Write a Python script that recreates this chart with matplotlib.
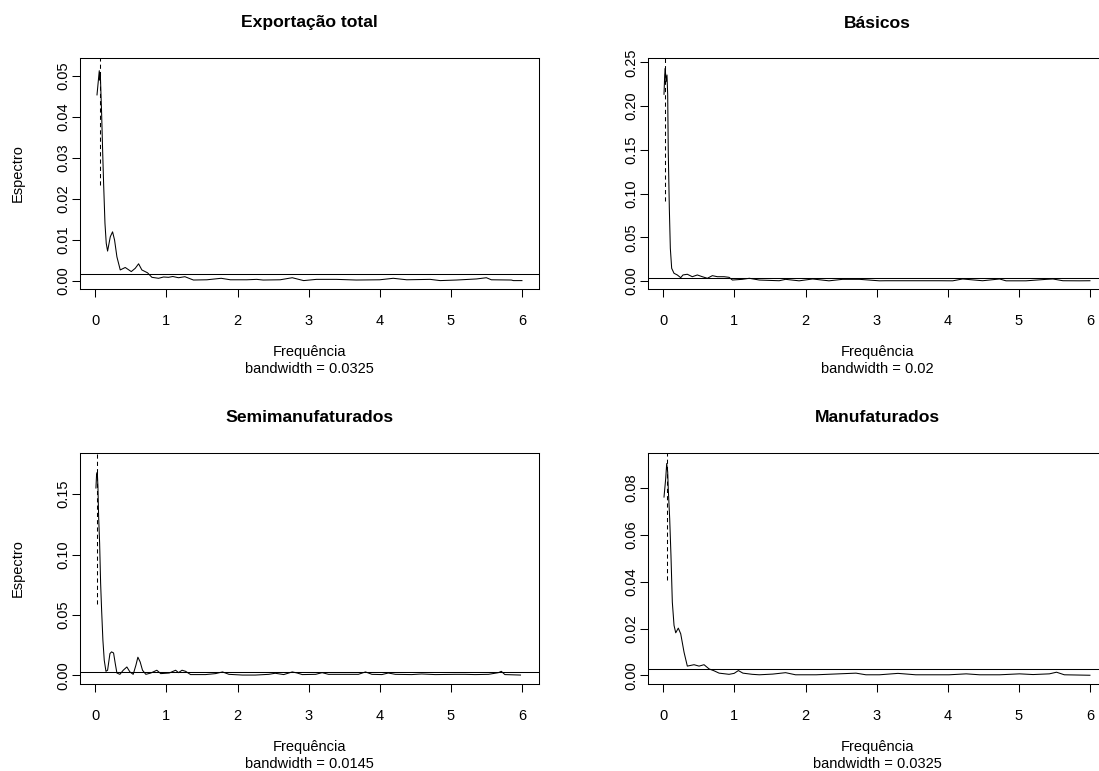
import matplotlib.pyplot as plt
import matplotlib.transforms as mtransforms

plt.rcParams['font.family'] = ['Liberation Sans', 'DejaVu Sans']

# ------------------------------------------------------------
# Dados (frequência, espectro suavizado)
# ------------------------------------------------------------

tot_freq = [0.024, 0.056, 0.062, 0.070, 0.089, 0.103, 0.117, 0.136, 0.154, 0.173,
            0.211, 0.243, 0.271, 0.304, 0.351, 0.421, 0.506, 0.562, 0.609, 0.655,
            0.735, 0.796, 0.890, 0.96, 1.03, 1.09, 1.17, 1.26, 1.38, 1.57,
            1.77, 1.90, 2.13, 2.27, 2.36, 2.60, 2.77, 2.93, 3.11, 3.39,
            3.67, 4.00, 4.19, 4.38, 4.71, 4.85, 5.08, 5.36, 5.50, 5.57,
            5.85, 5.88, 6.00]
tot_spec = [0.0454, 0.0513, 0.0490, 0.0508, 0.0409, 0.0320, 0.0238, 0.0141, 0.0092, 0.0073,
            0.0108, 0.0120, 0.0100, 0.0059, 0.0027, 0.0033, 0.0023, 0.0031, 0.0042, 0.0027,
            0.0020, 0.0009, 0.00066, 0.00098, 0.0009, 0.0011, 0.0008, 0.00105, 0.00024, 0.0003,
            0.00066, 0.0003, 0.0003, 0.0004, 0.00024, 0.0003, 0.0008, 0.0001, 0.0004, 0.0004,
            0.00024, 0.0003, 0.00066, 0.0003, 0.0004, 0.0001, 0.00024, 0.0005, 0.0008, 0.0003,
            0.00024, 0.0001, 0.0001]

bas_freq = [0.010, 0.020, 0.028, 0.038, 0.052, 0.062, 0.070, 0.085, 0.099, 0.118,
            0.151, 0.197, 0.245, 0.277, 0.338, 0.408, 0.479, 0.549, 0.620, 0.690,
            0.761, 0.855, 0.925, 0.972, 1.11, 1.21, 1.35, 1.63, 1.72, 1.91,
            2.10, 2.33, 2.52, 2.76, 3.04, 3.13, 3.88, 4.07, 4.21, 4.49,
            4.73, 4.82, 5.10, 5.39, 5.48, 5.62, 5.85, 6.00]
bas_spec = [0.2134, 0.2355, 0.2431, 0.2278, 0.2355, 0.2126, 0.1478, 0.0831, 0.0374, 0.0145,
            0.0088, 0.0069, 0.0038, 0.0069, 0.0077, 0.0049, 0.0069, 0.0049, 0.0031, 0.0061,
            0.0049, 0.0049, 0.0042, 0.0011, 0.0019, 0.0031, 0.0011, 0.0003, 0.0019, 0.0002,
            0.0023, 0.0002, 0.0019, 0.0019, 0.0002, 0.0003, 0.0003, 0.0002, 0.0023, 0.0003,
            0.0023, 0.0002, 0.0002, 0.0019, 0.0023, 0.0003, 0.0002, 0.0003]

semi_freq = [0.009, 0.018, 0.028, 0.037, 0.047, 0.061, 0.075, 0.089, 0.107, 0.126,
             0.150, 0.173, 0.206, 0.229, 0.257, 0.281, 0.304, 0.346, 0.393, 0.444,
             0.487, 0.533, 0.571, 0.599, 0.631, 0.664, 0.711, 0.781, 0.865, 0.92,
             1.04, 1.13, 1.17, 1.22, 1.27, 1.34, 1.55, 1.69, 1.79, 1.88,
             2.07, 2.25, 2.44, 2.53, 2.65, 2.77, 2.84, 2.91, 3.10, 3.19,
             3.28, 3.47, 3.70, 3.80, 3.89, 4.03, 4.12, 4.22, 4.45, 4.59,
             4.78, 5.06, 5.20, 5.34, 5.53, 5.67, 5.71, 5.76, 5.98]
semi_spec = [0.1551, 0.1662, 0.1681, 0.1565, 0.1316, 0.1094, 0.0762, 0.0540, 0.0291, 0.0125,
             0.0033, 0.0042, 0.0180, 0.0194, 0.0185, 0.0097, 0.0019, 0.0008, 0.0042, 0.0069,
             0.0028, 0.0008, 0.0083, 0.0150, 0.0111, 0.0042, 0.0008, 0.0019, 0.0042, 0.0014,
             0.0019, 0.0042, 0.0022, 0.0042, 0.0033, 0.0006, 0.0006, 0.0014, 0.0028, 0.0008,
             0.0002, 0.0002, 0.0008, 0.0017, 0.0006, 0.0028, 0.0019, 0.0006, 0.0008, 0.0022,
             0.0008, 0.0008, 0.0008, 0.0028, 0.0008, 0.0006, 0.0019, 0.0008, 0.0006, 0.0011,
             0.0006, 0.0008, 0.0008, 0.0006, 0.0008, 0.0022, 0.0033, 0.0006, 0.0002]

manu_freq = [0.010, 0.034, 0.048, 0.062, 0.070, 0.090, 0.108, 0.127, 0.151, 0.175,
             0.211, 0.245, 0.292, 0.338, 0.385, 0.432, 0.503, 0.573, 0.644, 0.714,
             0.785, 0.925, 0.996, 1.056, 1.12, 1.25, 1.35, 1.54, 1.72, 1.86,
             2.15, 2.47, 2.71, 2.85, 3.04, 3.30, 3.55, 4.02, 4.26, 4.45,
             4.73, 5.01, 5.20, 5.43, 5.53, 5.64, 6.00]
manu_spec = [0.0761, 0.0840, 0.0904, 0.0868, 0.0797, 0.0669, 0.0512, 0.0313, 0.0214, 0.0182,
             0.0202, 0.0178, 0.0099, 0.0040, 0.0043, 0.0046, 0.0040, 0.0046, 0.0028, 0.0020,
             0.0010, 0.0005, 0.0009, 0.0021, 0.0010, 0.0005, 0.0003, 0.0006, 0.0012, 0.0003,
             0.0003, 0.0007, 0.0010, 0.0003, 0.0003, 0.0009, 0.0003, 0.0003, 0.0007, 0.0003,
             0.0003, 0.0007, 0.0004, 0.0007, 0.0014, 0.0003, 0.0001]

titles = ["Exportação total", "Básicos", "Semimanufaturados", "Manufaturados"]
bandwidths = ["0.0325", "0.02", "0.0145", "0.0325"]
hline_level = [0.0016, 0.0036, 0.0030, 0.0027]   # linha horizontal (abline)
ci_x = [0.06, 0.025, 0.018, 0.048]                # barra tracejada
ci_lo = [0.0234, 0.0918, 0.0587, 0.0406]
ci_hi = [0.0545, 0.255, 0.185, 0.095]
yticks = [
    [0.00, 0.01, 0.02, 0.03, 0.04, 0.05],
    [0.00, 0.05, 0.10, 0.15, 0.20, 0.25],
    [0.00, 0.05, 0.10, 0.15],
    [0.00, 0.02, 0.04, 0.06, 0.08],
]
xticks = [0, 1, 2, 3, 4, 5, 6]

freqs = [tot_freq, bas_freq, semi_freq, manu_freq]
specs = [tot_spec, bas_spec, semi_spec, manu_spec]

# ------------------------------------------------------------
# Layout (pixels medidos na imagem 1099x771)
# ------------------------------------------------------------
W, H = 1099, 771
boxes = [(80, 58), (648, 58), (80, 453), (648, 453)]  # canto sup. esquerdo
box_w, box_h = 459, 231
ylims = [(-0.00195, 0.0544), (-0.00915, 0.2549), (-0.0072, 0.1841), (-0.00363, 0.0949)]
xlim = (-0.215, 6.24)

fig = plt.figure(figsize=(W / 100, H / 100), dpi=100)
lw = 0.75

for i in range(4):
    x0, y0 = boxes[i]
    ax = fig.add_axes([x0 / W, 1 - (y0 + box_h) / H, box_w / W, box_h / H])
    ax.plot(freqs[i], specs[i], color="black", lw=lw)
    ax.axhline(hline_level[i], color="black", lw=lw)
    ax.plot([ci_x[i], ci_x[i]], [ci_lo[i], ci_hi[i]], color="black", lw=lw,
            linestyle=(0, (4, 3)))
    ax.set_xlim(*xlim)
    ax.set_ylim(*ylims[i])
    ax.set_xticks(xticks)
    ax.set_xticklabels([str(t) for t in xticks])
    ax.set_yticks(yticks[i])
    ax.set_yticklabels([f"{t:.2f}" for t in yticks[i]], rotation=90, va="center")
    ax.tick_params(direction="out", length=6, width=lw, labelsize=10.5, color="black")
    ax.tick_params(axis="x", pad=12)
    ax.tick_params(axis="y", pad=1)
    for sp in ax.spines.values():
        sp.set_linewidth(lw)
        sp.set_color("black")

    t_title = mtransforms.offset_copy(ax.transAxes, fig=fig, x=0, y=35, units="dots")
    ax.text(0.5, 1, titles[i], transform=t_title, ha="center", va="center",
            fontsize=12.6, fontweight="bold")
    t_xl = mtransforms.offset_copy(ax.transAxes, fig=fig, x=0, y=-63, units="dots")
    ax.text(0.5, 0, "Frequência", transform=t_xl, ha="center", va="center", fontsize=10.5)
    t_bw = mtransforms.offset_copy(ax.transAxes, fig=fig, x=0, y=-80, units="dots")
    ax.text(0.5, 0, f"bandwidth = {bandwidths[i]}", transform=t_bw, ha="center",
            va="center", fontsize=10.5)
    if i % 2 == 0:
        t_yl = mtransforms.offset_copy(ax.transAxes, fig=fig, x=-62, y=0, units="dots")
        ax.text(0, 0.5, "Espectro", transform=t_yl, ha="center", va="center",
                rotation=90, fontsize=10.5)

fig.savefig("out.png", dpi=100, facecolor="white")
